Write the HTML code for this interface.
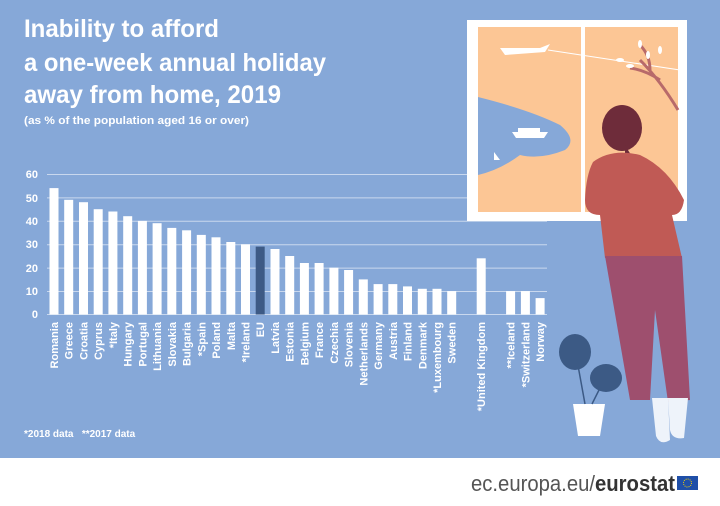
<!DOCTYPE html>
<html><head><meta charset="utf-8"><style>
html,body{margin:0;padding:0;}
body{width:720px;height:506px;overflow:hidden;background:#fff;font-family:"Liberation Sans",sans-serif;}
</style></head><body>
<svg width="720" height="506" viewBox="0 0 720 506" xmlns="http://www.w3.org/2000/svg" font-family="Liberation Sans, sans-serif" style="display:block">
<rect width="720" height="458" fill="#86a8d8"/>
<rect y="458" width="720" height="60" fill="#fff"/>
<!-- title -->
<g fill="#fff" font-weight="bold">
<text x="24" y="37" font-size="25" textLength="195" lengthAdjust="spacingAndGlyphs">Inability to afford</text>
<text x="24" y="71" font-size="25" textLength="302" lengthAdjust="spacingAndGlyphs">a one-week annual holiday</text>
<text x="24" y="103" font-size="25" textLength="257" lengthAdjust="spacingAndGlyphs">away from home, 2019</text>
<text x="24" y="124" font-size="11" textLength="225" lengthAdjust="spacingAndGlyphs">(as % of the population aged 16 or over)</text>
<text x="24" y="437" font-size="10">*2018 data&#160;&#160;&#160;**2017 data</text>
</g>
<!-- grid -->
<g stroke="#c9d8ee" stroke-width="1">
<line x1="47" x2="547" y1="174.5" y2="174.5"/><line x1="47" x2="547" y1="197.9" y2="197.9"/>
<line x1="47" x2="547" y1="221.3" y2="221.3"/><line x1="47" x2="547" y1="244.7" y2="244.7"/>
<line x1="47" x2="547" y1="268.1" y2="268.1"/><line x1="47" x2="547" y1="291.5" y2="291.5"/>
<line x1="47" x2="547" y1="314.5" y2="314.5"/>
</g>
<g fill="#fff" font-size="11" font-weight="bold" text-anchor="end">
<text x="38" y="178">60</text><text x="38" y="202">50</text><text x="38" y="225">40</text>
<text x="38" y="248">30</text><text x="38" y="272">20</text><text x="38" y="295">10</text><text x="38" y="318">0</text>
</g>
<!-- window -->
<rect x="467" y="20" width="220" height="201" fill="#fff"/>
<rect x="478" y="27" width="103" height="185" fill="#fcc695"/>
<rect x="585" y="27" width="93" height="185" fill="#fcc695"/>
<path d="M478 97 Q530 110 560 125 Q578 140 565 150 Q540 160 520 155 Q500 170 478 175 Z" fill="#86a8d8"/>
<path d="M512 132 L548 132 L544 138 L516 138 Z M518 128 L540 128 L540 132 L518 132Z" fill="#fff"/>
<path d="M494 152 L494 160 L500 160 Z" fill="#fff"/>
<path d="M500 48 L540 48 L550 44 L545 52 L505 55 Z" fill="#fff"/>
<line x1="548" y1="50" x2="680" y2="70" stroke="#fff" stroke-width="1"/>
<path d="M678 110 Q660 80 640 60 M660 80 Q645 70 630 68 M650 70 Q650 55 640 45" stroke="#b86a6a" stroke-width="3" fill="none"/>
<g fill="#fff"><ellipse cx="630" cy="66" rx="4" ry="2"/><ellipse cx="640" cy="44" rx="2" ry="4"/><ellipse cx="648" cy="55" rx="2" ry="4"/><ellipse cx="660" cy="50" rx="2" ry="4"/><ellipse cx="620" cy="60" rx="4" ry="2"/></g>
<!-- woman -->
<ellipse cx="622" cy="128" rx="20" ry="23" fill="#6e2c3a"/>
<path d="M625 145 Q640 170 645 180 Q630 180 625 160Z" fill="#6e2c3a"/>
<path d="M593 162 Q612 148 640 155 Q668 168 684 200 Q682 215 672 215 L682 258 L605 258 L600 215 Q585 215 585 200 Q586 175 593 162Z" fill="#c05a55"/>
<path d="M605 256 L682 256 L690 400 L668 402 L655 310 L650 400 L630 400 Z" fill="#9e4f6e"/>
<path d="M652 398 L668 398 L670 440 Q660 446 656 436Z M668 398 L688 398 L684 438 Q672 440 670 430Z" fill="#eef3fa"/>
<!-- plant -->
<path d="M573 404 L605 404 L600 436 L578 436 Z" fill="#fff"/>
<ellipse cx="575" cy="352" rx="16" ry="18" fill="#3c5a85"/>
<ellipse cx="606" cy="378" rx="16" ry="14" fill="#3c5a85"/>
<path d="M585 404 L577 360 M592 404 L604 380" stroke="#3c5a85" stroke-width="1.5"/>
<!-- bars -->
<g fill="#fff">
<rect x="49.5" y="188.1" width="9" height="126.4"/>
<rect x="64.2" y="199.8" width="9" height="114.7"/>
<rect x="79.0" y="202.2" width="9" height="112.3"/>
<rect x="93.7" y="209.2" width="9" height="105.3"/>
<rect x="108.4" y="211.5" width="9" height="103"/>
<rect x="123.2" y="216.2" width="9" height="98.3"/>
<rect x="137.9" y="220.9" width="9" height="93.6"/>
<rect x="152.6" y="223.2" width="9" height="91.3"/>
<rect x="167.3" y="227.9" width="9" height="86.6"/>
<rect x="182.1" y="230.3" width="9" height="84.2"/>
<rect x="196.8" y="234.9" width="9" height="79.6"/>
<rect x="211.5" y="237.3" width="9" height="77.2"/>
<rect x="226.3" y="242" width="9" height="72.5"/>
<rect x="241.0" y="244.3" width="9" height="70.2"/>
<rect x="255.7" y="246.6" width="9" height="67.9" fill="#3d5a85"/>
<rect x="270.5" y="249" width="9" height="65.5"/>
<rect x="285.2" y="256" width="9" height="58.5"/>
<rect x="299.9" y="263" width="9" height="51.5"/>
<rect x="314.6" y="263" width="9" height="51.5"/>
<rect x="329.4" y="267.7" width="9" height="46.8"/>
<rect x="344.1" y="270" width="9" height="44.5"/>
<rect x="358.8" y="279.4" width="9" height="35.1"/>
<rect x="373.6" y="284.1" width="9" height="30.4"/>
<rect x="388.3" y="284.1" width="9" height="30.4"/>
<rect x="403.0" y="286.4" width="9" height="28.1"/>
<rect x="417.8" y="288.8" width="9" height="25.7"/>
<rect x="432.5" y="288.8" width="9" height="25.7"/>
<rect x="447.2" y="291.1" width="9" height="23.4"/>
<rect x="476.7" y="258.3" width="9" height="56.2"/>
<rect x="506.1" y="291.1" width="9" height="23.4"/>
<rect x="520.9" y="291.1" width="9" height="23.4"/>
<rect x="535.6" y="298.1" width="9" height="16.4"/>
</g>
<!-- labels -->
<g fill="#fff" font-size="11" font-weight="bold" text-anchor="end">
<text transform="translate(58,322) rotate(-90)">Romania</text>
<text transform="translate(72.7,322) rotate(-90)">Greece</text>
<text transform="translate(87.5,322) rotate(-90)">Croatia</text>
<text transform="translate(102.2,322) rotate(-90)">Cyprus</text>
<text transform="translate(116.9,322) rotate(-90)">*Italy</text>
<text transform="translate(131.7,322) rotate(-90)">Hungary</text>
<text transform="translate(146.4,322) rotate(-90)">Portugal</text>
<text transform="translate(161.1,322) rotate(-90)">Lithuania</text>
<text transform="translate(175.8,322) rotate(-90)">Slovakia</text>
<text transform="translate(190.6,322) rotate(-90)">Bulgaria</text>
<text transform="translate(205.3,322) rotate(-90)">*Spain</text>
<text transform="translate(220,322) rotate(-90)">Poland</text>
<text transform="translate(234.8,322) rotate(-90)">Malta</text>
<text transform="translate(249.5,322) rotate(-90)">*Ireland</text>
<text transform="translate(264.2,322) rotate(-90)">EU</text>
<text transform="translate(279,322) rotate(-90)">Latvia</text>
<text transform="translate(293.7,322) rotate(-90)">Estonia</text>
<text transform="translate(308.4,322) rotate(-90)">Belgium</text>
<text transform="translate(323.1,322) rotate(-90)">France</text>
<text transform="translate(337.9,322) rotate(-90)">Czechia</text>
<text transform="translate(352.6,322) rotate(-90)">Slovenia</text>
<text transform="translate(367.3,322) rotate(-90)">Netherlands</text>
<text transform="translate(382.1,322) rotate(-90)">Germany</text>
<text transform="translate(396.8,322) rotate(-90)">Austria</text>
<text transform="translate(411.5,322) rotate(-90)">Finland</text>
<text transform="translate(426.3,322) rotate(-90)">Denmark</text>
<text transform="translate(441,322) rotate(-90)">*Luxembourg</text>
<text transform="translate(455.7,322) rotate(-90)">Sweden</text>
<text transform="translate(485.2,322) rotate(-90)">*United Kingdom</text>
<text transform="translate(514.6,322) rotate(-90)">**Iceland</text>
<text transform="translate(529.4,322) rotate(-90)">*Switzerland</text>
<text transform="translate(544.1,322) rotate(-90)">Norway</text>
</g>
<!-- footer -->
<text x="471" y="491" font-size="22" fill="#555" textLength="204" lengthAdjust="spacingAndGlyphs">ec.europa.eu/<tspan font-weight="bold" fill="#333">eurostat</tspan></text>
<rect x="677" y="476" width="21" height="14" fill="#1f4fa8"/>
<circle cx="687.5" cy="483" r="4" fill="none" stroke="#f5d000" stroke-width="1" stroke-dasharray="1 1.1"/>
</svg>
</body></html>
